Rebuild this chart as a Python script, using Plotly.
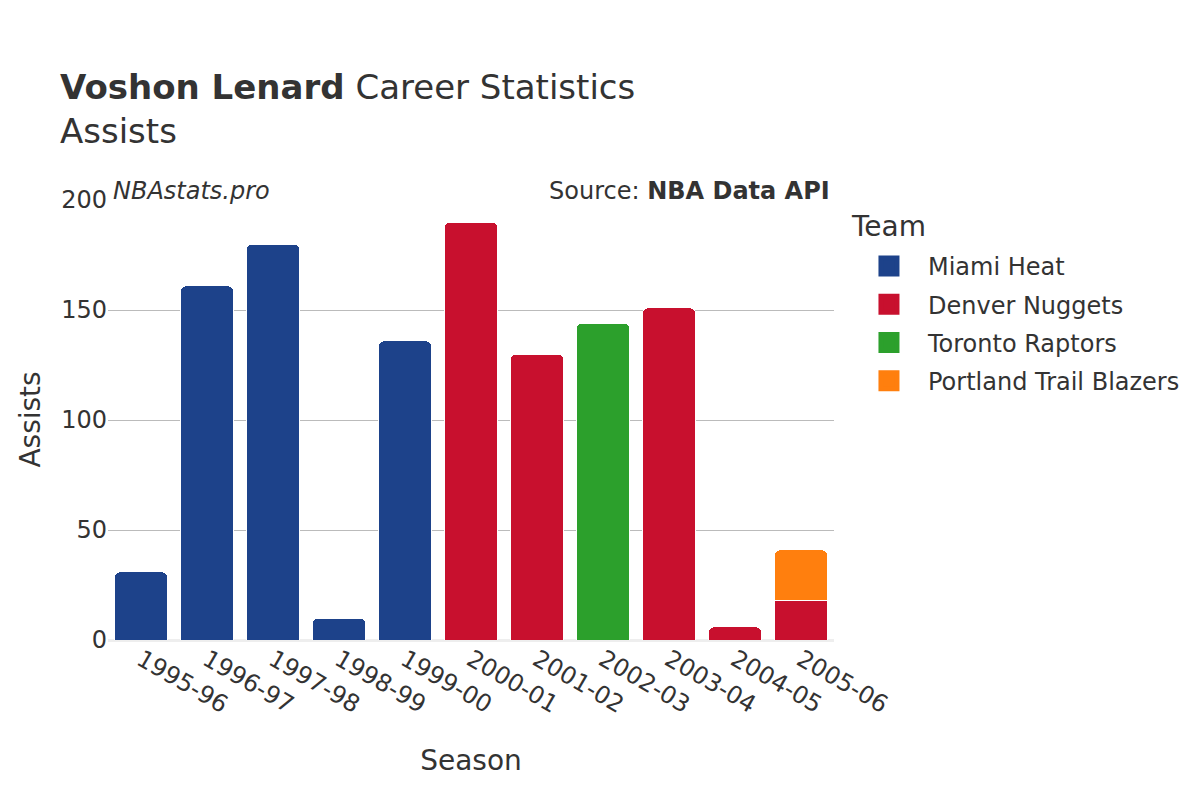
import plotly.graph_objects as go

seasons = ["1995-96", "1996-97", "1997-98", "1998-99", "1999-00", "2000-01",
           "2001-02", "2002-03", "2003-04", "2004-05", "2005-06"]

miami_seasons = ["1995-96", "1996-97", "1997-98", "1998-99", "1999-00"]
miami_assists = [31, 161, 180, 10, 136]

denver_seasons = ["2000-01", "2001-02", "2003-04", "2004-05", "2005-06"]
denver_assists = [190, 130, 151, 6, 18]

toronto_seasons = ["2002-03"]
toronto_assists = [144]

portland_seasons = ["2005-06"]
portland_assists = [23]

teams = [
    ("Miami Heat", miami_seasons, miami_assists, "#1D428A"),
    ("Denver Nuggets", denver_seasons, denver_assists, "#C8102E"),
    ("Toronto Raptors", toronto_seasons, toronto_assists, "#2CA02C"),
    ("Portland Trail Blazers", portland_seasons, portland_assists, "#FF7F0E"),
]

FONT = "DejaVu Sans"
TXT = "#333333"

fig = go.Figure()
for name, xs, ys, color in teams:
    fig.add_trace(go.Bar(
        x=xs, y=ys, name=name, legendgroup=name, showlegend=False,
        marker=dict(color=color, line=dict(color="white", width=1), cornerradius=5),
    ))
# legend-only entries (larger swatches)
for name, xs, ys, color in teams:
    fig.add_trace(go.Scatter(
        x=[None], y=[None], name=name, legendgroup=name, showlegend=True,
        mode="markers",
        marker=dict(color=color, symbol="square", size=16,
                    line=dict(color=color, width=5)),
        hoverinfo="skip",
    ))

fig.update_layout(
    width=1200, height=800,
    barmode="stack",
    bargap=0.2,
    plot_bgcolor="white",
    paper_bgcolor="white",
    font=dict(family=FONT, color=TXT, size=24),
    margin=dict(l=100, r=374, t=192, b=168),
    title=dict(
        text="<b>Voshon Lenard</b> Career Statistics<br>Assists",
        x=0.0433, xanchor="left", y=0.886, yanchor="top",
        font=dict(family=FONT, size=34, color=TXT),
    ),
    xaxis=dict(
        title=dict(text="Season", font=dict(size=28), standoff=32),
        categoryorder="array", categoryarray=seasons,
        tickangle=30,
        tickfont=dict(size=24),
        showgrid=False,
        automargin=False,
    ),
    yaxis=dict(
        range=[0, 200],
        tickvals=[0, 50, 100, 150, 200],
        tickfont=dict(size=24),
        showgrid=True, gridcolor="#BBBBBB", gridwidth=1,
        zeroline=True, zerolinecolor="#EEEEEE", zerolinewidth=3,
        automargin=False,
    ),
    legend=dict(
        font=dict(size=24),
        x=1.022, xanchor="left", y=0.9, yanchor="top",
        traceorder="grouped",
        tracegroupgap=4,
        itemwidth=68,
    ),
    annotations=[
        dict(text="<i>NBAstats.pro</i>", xref="paper", yref="paper",
             x=0.0, y=1.0, xanchor="left", yanchor="bottom", xshift=3, yshift=-7,
             showarrow=False, font=dict(size=24, color=TXT)),
        dict(text="Source: <b>NBA Data API</b>", xref="paper", yref="paper",
             x=1.0, y=1.0, xanchor="right", yanchor="bottom", xshift=-2, yshift=-7,
             showarrow=False, font=dict(size=24, color=TXT)),
        dict(text="Team", xref="paper", yref="paper",
             x=1.0207, y=0.9409, xanchor="left", yanchor="middle",
             showarrow=False, font=dict(size=28, color=TXT)),
        dict(text="Assists", xref="paper", yref="paper",
             x=-0.108, y=0.5, xanchor="center", yanchor="middle",
             textangle=-90,
             showarrow=False, font=dict(size=28, color=TXT)),
    ],
)

fig.write_html("out.html")
